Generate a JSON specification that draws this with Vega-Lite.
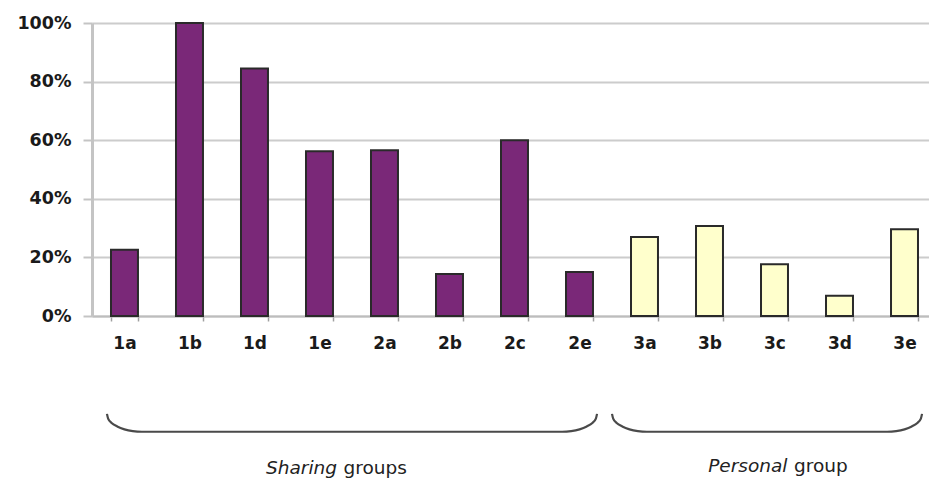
{
  "$schema": "https://vega.github.io/schema/vega-lite/v6.json",
  "autosize": {"type": "none"},
  "width": 837,
  "height": 293,
  "padding": {"left": 92, "top": 23, "right": 0, "bottom": 166},
  "background": "white",
  "config": {"view": {"stroke": null}},
  "resolve": {"scale": {"x": "independent"}},
  "layer": [
    {
      "data": {"values": [
        {"cat": "1a", "pct": 0.226, "group": "Sharing"},
        {"cat": "1b", "pct": 1.0, "group": "Sharing"},
        {"cat": "1d", "pct": 0.845, "group": "Sharing"},
        {"cat": "1e", "pct": 0.562, "group": "Sharing"},
        {"cat": "2a", "pct": 0.566, "group": "Sharing"},
        {"cat": "2b", "pct": 0.143, "group": "Sharing"},
        {"cat": "2c", "pct": 0.6, "group": "Sharing"},
        {"cat": "2e", "pct": 0.15, "group": "Sharing"},
        {"cat": "3a", "pct": 0.27, "group": "Personal"},
        {"cat": "3b", "pct": 0.307, "group": "Personal"},
        {"cat": "3c", "pct": 0.177, "group": "Personal"},
        {"cat": "3d", "pct": 0.069, "group": "Personal"},
        {"cat": "3e", "pct": 0.296, "group": "Personal"}
      ]},
      "mark": {"type": "bar", "stroke": "#2a2a2a", "strokeWidth": 2},
      "encoding": {
        "x": {
          "field": "cat", "type": "nominal", "sort": null,
          "scale": {"paddingInner": 0.585, "paddingOuter": 0.2308, "align": 0.633},
          "axis": {
            "title": null, "labelAngle": 0, "tickBand": "extent",
            "domainColor": "#bdbdbd", "domainWidth": 2,
            "tickColor": "#a0a0a0", "tickWidth": 1.5, "tickSize": 5,
            "labelFont": "DejaVu Sans", "labelFontWeight": "bold", "labelFontSize": 17,
            "labelColor": "#1a1a1a", "labelPadding": 14
          }
        },
        "y": {
          "field": "pct", "type": "quantitative",
          "scale": {"domain": [0, 1], "nice": false},
          "axis": {
            "title": null, "format": ".0%", "values": [0, 0.2, 0.4, 0.6, 0.8, 1],
            "grid": true, "gridColor": "#cccccc", "gridWidth": 2,
            "domainColor": "#c4c4c4", "domainWidth": 3,
            "tickColor": "#c4c4c4", "tickWidth": 2, "tickSize": 9,
            "labelFont": "DejaVu Sans", "labelFontWeight": "bold", "labelFontSize": 17.5,
            "labelColor": "#1a1a1a", "labelPadding": 12
          }
        },
        "color": {
          "field": "group", "type": "nominal",
          "scale": {"domain": ["Sharing", "Personal"], "range": ["#7a2878", "#ffffcc"]},
          "legend": null
        }
      }
    },
    {
      "data": {"values": [
        {"b": "L", "i": 0, "bx": 0.23, "by": -0.334},
        {"b": "L", "i": 1, "bx": 0.248, "by": -0.35},
        {"b": "L", "i": 2, "bx": 0.302, "by": -0.365},
        {"b": "L", "i": 3, "bx": 0.388, "by": -0.377},
        {"b": "L", "i": 4, "bx": 0.499, "by": -0.387},
        {"b": "L", "i": 5, "bx": 0.628, "by": -0.393},
        {"b": "L", "i": 6, "bx": 0.768, "by": -0.395},
        {"b": "L", "i": 7, "bx": 7.232, "by": -0.395},
        {"b": "L", "i": 8, "bx": 7.372, "by": -0.393},
        {"b": "L", "i": 9, "bx": 7.501, "by": -0.387},
        {"b": "L", "i": 10, "bx": 7.612, "by": -0.377},
        {"b": "L", "i": 11, "bx": 7.698, "by": -0.365},
        {"b": "L", "i": 12, "bx": 7.752, "by": -0.35},
        {"b": "L", "i": 13, "bx": 7.77, "by": -0.334},
        {"b": "R", "i": 0, "bx": 8.0, "by": -0.334},
        {"b": "R", "i": 1, "bx": 8.018, "by": -0.35},
        {"b": "R", "i": 2, "bx": 8.072, "by": -0.365},
        {"b": "R", "i": 3, "bx": 8.158, "by": -0.377},
        {"b": "R", "i": 4, "bx": 8.269, "by": -0.387},
        {"b": "R", "i": 5, "bx": 8.398, "by": -0.393},
        {"b": "R", "i": 6, "bx": 8.538, "by": -0.395},
        {"b": "R", "i": 7, "bx": 12.232, "by": -0.395},
        {"b": "R", "i": 8, "bx": 12.372, "by": -0.393},
        {"b": "R", "i": 9, "bx": 12.501, "by": -0.387},
        {"b": "R", "i": 10, "bx": 12.612, "by": -0.377},
        {"b": "R", "i": 11, "bx": 12.698, "by": -0.365},
        {"b": "R", "i": 12, "bx": 12.752, "by": -0.35},
        {"b": "R", "i": 13, "bx": 12.77, "by": -0.334}
      ]},
      "mark": {"type": "line", "color": "#4a4a4a", "strokeWidth": 2.2, "interpolate": "monotone"},
      "encoding": {
        "x": {"field": "bx", "type": "quantitative", "scale": {"domain": [0, 12.877], "nice": false, "zero": false}, "axis": null},
        "y": {"field": "by", "type": "quantitative", "scale": {"domain": [0, 1], "nice": false}},
        "detail": {"field": "b"},
        "order": {"field": "i"}
      }
    },
    {
      "data": {"values": [
        {"word": "Sharing", "tx": 3.77, "ty": -0.518},
        {"word": "Personal", "tx": 10.7, "ty": -0.513}
      ]},
      "mark": {"type": "text", "align": "right", "baseline": "middle", "font": "DejaVu Sans", "fontSize": 18.5, "fontStyle": "italic", "color": "#222222"},
      "encoding": {
        "x": {"field": "tx", "type": "quantitative", "scale": {"domain": [0, 12.877], "nice": false, "zero": false}, "axis": null},
        "y": {"field": "ty", "type": "quantitative", "scale": {"domain": [0, 1], "nice": false}},
        "text": {"field": "word"}
      }
    },
    {
      "data": {"values": [
        {"word": "groups", "tx": 3.87, "ty": -0.518},
        {"word": "group", "tx": 10.8, "ty": -0.513}
      ]},
      "mark": {"type": "text", "align": "left", "baseline": "middle", "font": "DejaVu Sans", "fontSize": 18.5, "color": "#222222"},
      "encoding": {
        "x": {"field": "tx", "type": "quantitative", "scale": {"domain": [0, 12.877], "nice": false, "zero": false}, "axis": null},
        "y": {"field": "ty", "type": "quantitative", "scale": {"domain": [0, 1], "nice": false}},
        "text": {"field": "word"}
      }
    }
  ]
}
